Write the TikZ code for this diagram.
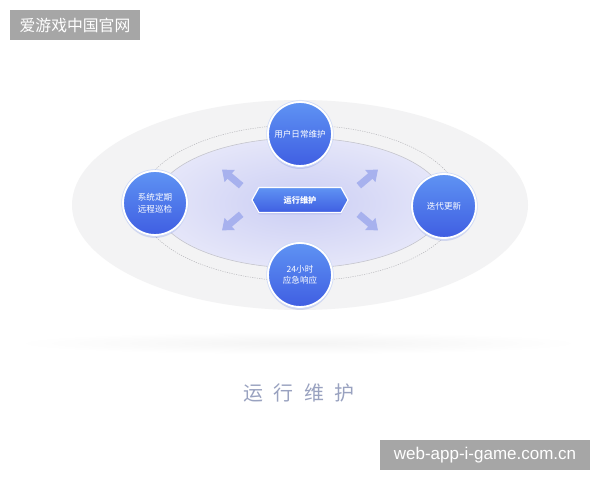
\documentclass[tikz,border=0pt]{standalone}
\usepackage{fontspec}
\newfontfamily\cjk{Noto Sans CJK SC}
\newfontfamily\latin{Liberation Sans}
\usetikzlibrary{shapes.symbols,shadows}
\definecolor{outerc}{HTML}{F3F3F4}
\definecolor{dotc}{HTML}{B4B4B8}
\definecolor{innerline}{HTML}{C4C4CC}
\definecolor{lavin}{HTML}{CBCEF4}
\definecolor{lavout}{HTML}{E5E6F9}
\definecolor{ctop}{HTML}{5F93F3}
\definecolor{cbot}{HTML}{3F5EE2}
\definecolor{ringc}{HTML}{CFDBF8}
\definecolor{shadowc}{HTML}{5C6FD8}
\definecolor{arrowc}{HTML}{A7B1EE}
\definecolor{wmgray}{HTML}{A6A6A6}
\definecolor{titlec}{HTML}{99A2C0}
\definecolor{bandc}{HTML}{F4F4F4}
\begin{document}
\begin{tikzpicture}[x=0.03cm,y=0.03cm,
  bubble/.style={circle, minimum size=1.92cm, inner sep=0pt, draw=white, line width=1.6pt,
    top color=ctop, bottom color=cbot,
    drop shadow={opacity=0.22, fill=shadowc, shadow xshift=0pt, shadow yshift=-2.5pt},
    text=white, font=\cjk\fontsize{7.3}{9.8}\selectfont, align=center},
  hexbox/.style={signal, signal to=west and east, signal pointer angle=122,
    minimum width=2.88cm, minimum height=0.75cm, inner sep=0pt, draw=white, line width=1pt,
    top color=ctop, bottom color=cbot,
    drop shadow={opacity=0.2, fill=shadowc, shadow xshift=0pt, shadow yshift=-1.5pt},
    text=white, font=\cjk\bfseries\fontsize{7}{9}\selectfont},
  wmark/.style={fill=wmgray, text=white, inner sep=0pt, minimum height=0.9cm},
  fatarrow/.style={fill=arrowc}
]
\useasboundingbox (0,0) rectangle (600,480);
\fill[white] (0,0) rectangle (600,480);

% ground shadow band
\shade[inner color=bandc, outer color=white] (298,137) ellipse [x radius=285, y radius=11];

% outer light ellipse
\fill[outerc] (300,275) ellipse [x radius=228, y radius=105];

% dotted orbit
\draw[dotc, line width=0.4pt, dash pattern=on 1pt off 1pt] (300,277) ellipse [x radius=160, y radius=78];

% inner lavender ellipse
\shade[inner color=lavin, outer color=lavout] (300,277) ellipse [x radius=145, y radius=65];
\draw[innerline, line width=0.5pt] (300,277) ellipse [x radius=145, y radius=65];

% arrows
\foreach \x/\y/\a in {232/302/140, 368/302/40, 232/258/220, 368/258/-40}{
  \fill[fatarrow, shift={(\x,\y)}, rotate=\a]
    (-12,-3.5) -- (3,-3.5) -- (3,-8) -- (13,0) -- (3,8) -- (3,3.5) -- (-12,3.5) -- cycle;
}

% central hexagon
\node[hexbox] (hex) at (300,280) {运行维护};

% bubbles
\node[bubble] (top) at (300,346) {用户日常维护};
\node[bubble] (left) at (155,277) {系统定期\\远程巡检};
\node[bubble] (right) at (444,274) {迭代更新};
\node[bubble] (bot) at (300,205) {24小时\\应急响应};
\foreach \n in {top,left,right,bot}{
  \draw[ringc, line width=0.5pt] (\n.center) circle (33.4);
}

% title
\node[text=titlec, font=\cjk\fontsize{17}{20}\selectfont] (title) at (299,87)
  {运\hspace{9pt}行\hspace{9pt}维\hspace{9pt}护};

% watermarks
\node[wmark, minimum width=3.9cm, font=\cjk\fontsize{13.5}{15}\selectfont] (wm1) at (75,455) {爱游戏中国官网};
\node[wmark, minimum width=6.3cm, font=\latin\fontsize{14.5}{16}\selectfont] (wm2) at (485,25) {web-app-i-game.com.cn};
\end{tikzpicture}
\end{document}
